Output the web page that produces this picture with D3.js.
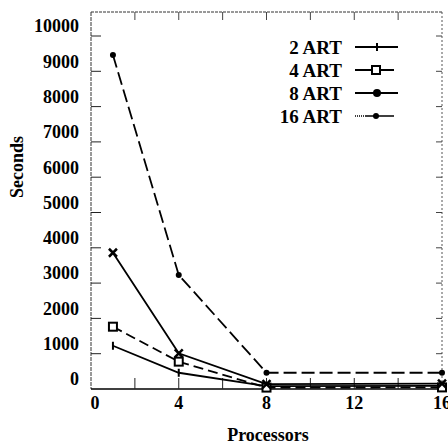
<!DOCTYPE html>
<html>
<head>
<meta charset="utf-8">
<script src="https://cdn.jsdelivr.net/npm/d3@7"></script>
<style>
  body { margin: 0; background: #fff; }
  text { font-family: "Liberation Serif", "DejaVu Serif", serif; font-weight: bold; fill: #000; }
</style>
</head>
<body>
<div id="chart"></div>
<script>
// data
var processors = [1, 4, 8, 16];
var seriesNames = ["2 ART", "4 ART", "8 ART", "16 ART"];
var art2 = [1225, 460, 80, 90];
var art4 = [1765, 775, 40, 45];
var art8 = [3860, 1010, 140, 150];
var art16 = [9460, 3230, 460, 460];
var yTicks = [0, 1000, 2000, 3000, 4000, 5000, 6000, 7000, 8000, 9000, 10000];
var xTicks = [0, 4, 8, 12, 16];

var series = [
  {name: seriesNames[0], values: art2, dash: null, marker: "tick"},
  {name: seriesNames[1], values: art4, dash: "10,5", marker: "square"},
  {name: seriesNames[2], values: art8, dash: null, marker: "x"},
  {name: seriesNames[3], values: art16, dash: "13,5", marker: "dot"}
];

var W = 448, H = 447;
var margin = {top: 12, right: 6, bottom: 58, left: 91};
var width = W - margin.left - margin.right,
    height = H - margin.top - margin.bottom;

var svg = d3.select("#chart").append("svg")
  .attr("width", W).attr("height", H);
var g = svg.append("g")
  .attr("transform", "translate(" + margin.left + "," + margin.top + ")");

var x = d3.scaleLinear().domain([0, 16]).range([0, width]);
var y = d3.scaleLinear().domain([0, 10680]).range([height, 0]);

// frame: dotted top / right / left, solid bottom
g.append("line").attr("x1", 0).attr("x2", width).attr("y1", 0).attr("y2", 0)
  .attr("stroke", "#333").attr("stroke-width", 1).attr("stroke-dasharray", "3,1");
g.append("line").attr("x1", width).attr("x2", width).attr("y1", 0).attr("y2", height)
  .attr("stroke", "#555").attr("stroke-width", 1).attr("stroke-dasharray", "2,2");
g.append("line").attr("x1", 0).attr("x2", 0).attr("y1", 0).attr("y2", height)
  .attr("stroke", "#333").attr("stroke-width", 1).attr("stroke-dasharray", "4,1");
g.append("line").attr("x1", 0).attr("x2", width).attr("y1", height).attr("y2", height)
  .attr("stroke", "#000").attr("stroke-width", 1.6);

// y ticks inward on both sides
yTicks.forEach(function(v) {
  if (v === 0) return;
  g.append("line").attr("x1", 0).attr("x2", 10).attr("y1", y(v)).attr("y2", y(v))
    .attr("stroke", "#222").attr("stroke-width", 1);
  g.append("line").attr("x1", width - 6).attr("x2", width).attr("y1", y(v)).attr("y2", y(v))
    .attr("stroke", "#444").attr("stroke-width", 1);
});
// y labels (sit a little above their ticks in the original)
g.selectAll(".ylab").data(yTicks).enter().append("text")
  .attr("class", "ylab")
  .attr("x", -12)
  .attr("y", function(d) { return y(d) - 10; })
  .attr("dy", "0.35em")
  .attr("text-anchor", "end")
  .style("font-size", "18px")
  .text(function(d) { return d; });

// x ticks every 2 processors, top and bottom
d3.range(2, 16, 2).forEach(function(v) {
  g.append("line").attr("x1", x(v)).attr("x2", x(v)).attr("y1", height - 11).attr("y2", height)
    .attr("stroke", "#222").attr("stroke-width", 1);
  g.append("line").attr("x1", x(v)).attr("x2", x(v)).attr("y1", 0).attr("y2", 8)
    .attr("stroke", "#444").attr("stroke-width", 1);
});
g.selectAll(".xlab").data(xTicks).enter().append("text")
  .attr("class", "xlab")
  .attr("x", function(d) { return x(d) + (d === 0 ? 4 : 0); })
  .attr("y", height + 20)
  .attr("text-anchor", "middle")
  .style("font-size", "18px")
  .text(function(d) { return d; });

// axis titles
svg.append("text")
  .attr("transform", "translate(23,167) rotate(-90)")
  .attr("text-anchor", "middle")
  .style("font-size", "18px")
  .text("Seconds");
svg.append("text")
  .attr("x", 268).attr("y", 441)
  .attr("text-anchor", "middle")
  .style("font-size", "18px")
  .text("Processors");

function drawMarker(sel, type, cx, cy, big) {
  if (type === "tick") {
    sel.append("line").attr("x1", cx).attr("x2", cx).attr("y1", cy - 4).attr("y2", cy + 4)
      .attr("stroke", "#000").attr("stroke-width", 2);
  } else if (type === "square") {
    sel.append("rect").attr("x", cx - 4).attr("y", cy - 4).attr("width", 8).attr("height", 8)
      .attr("fill", "#fff").attr("stroke", "#000").attr("stroke-width", 2);
  } else if (type === "x") {
    sel.append("path")
      .attr("d", "M" + (cx - 4) + "," + (cy - 4) + "L" + (cx + 4) + "," + (cy + 4) +
                 "M" + (cx + 4) + "," + (cy - 4) + "L" + (cx - 4) + "," + (cy + 4))
      .attr("stroke", "#000").attr("stroke-width", 2.5);
  } else {
    sel.append("circle").attr("cx", cx).attr("cy", cy).attr("r", big ? 4 : 3).attr("fill", "#000");
  }
}

var line = d3.line()
  .x(function(d, i) { return x(processors[i]); })
  .y(function(d) { return y(d); });

series.forEach(function(s) {
  g.append("path")
    .datum(s.values)
    .attr("d", line)
    .attr("fill", "none")
    .attr("stroke", "#000")
    .attr("stroke-width", 1.8)
    .attr("stroke-dasharray", s.dash);
  s.values.forEach(function(v, i) {
    drawMarker(g, s.marker, x(processors[i]), y(v));
  });
});

// legend
var legend = svg.append("g");
var legendMarkers = ["tick", "square", "dot", "dot"];
series.forEach(function(s, i) {
  var ly = 47 + i * 23;
  legend.append("text")
    .attr("x", 342).attr("y", ly).attr("dy", "0.35em")
    .attr("text-anchor", "end")
    .style("font-size", "19px")
    .text(s.name);
  legend.append("line")
    .attr("x1", 355).attr("x2", i === 1 || i === 3 ? 394 : 398)
    .attr("y1", ly).attr("y2", ly)
    .attr("stroke", "#000").attr("stroke-width", i === 3 ? 1.4 : 1.8)
    .attr("stroke-dasharray", i === 3 ? "1,1,1,1,1,1,1,1,1,1,30" : null);
  drawMarker(legend, legendMarkers[i], i === 1 || i === 3 ? 376 : 377, ly, i === 2);
});
</script>
</body>
</html>
